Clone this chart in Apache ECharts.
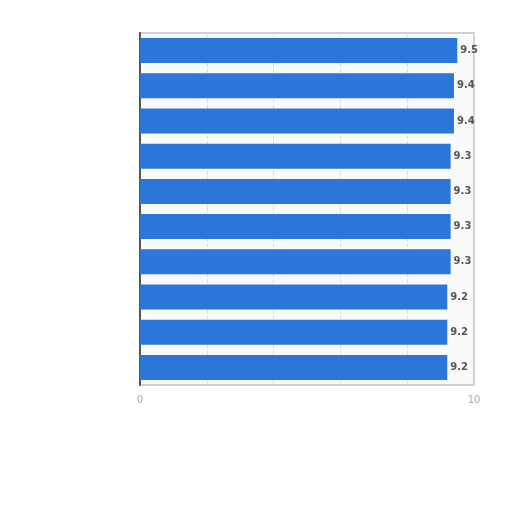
<!DOCTYPE html>
<html><head><meta charset="utf-8">
<script src="https://cdn.jsdelivr.net/npm/echarts@6/dist/echarts.min.js"></script>
<style>html,body{margin:0;padding:0;background:#fff}#c{width:512px;height:512px}</style>
</head><body><div id="c"></div>
<script>
var categories = ["Item 1","Item 2","Item 3","Item 4","Item 5","Item 6","Item 7","Item 8","Item 9","Item 10"];
var values = [9.5, 9.4, 9.4, 9.3, 9.3, 9.3, 9.3, 9.2, 9.2, 9.2];
var xTickLabels = {0: "0", 10: "10"};

var chart = echarts.init(document.getElementById('c'), null, {renderer: 'canvas'});
chart.setOption({
  animation: false,
  backgroundColor: '#ffffff',
  grid: {left: 140, right: 38, top: 33, bottom: 127, show: true, borderColor: '#d0d0d0', borderWidth: 2, backgroundColor: '#fafafa'},
  xAxis: {
    type: 'value', min: 0, max: 10, interval: 2,
    axisLine: {show: false}, axisTick: {show: false},
    splitLine: {show: true, lineStyle: {type: 'dashed', color: '#dcdcdc', width: 1}},
    axisLabel: {margin: 10, color: '#aaaaaa', fontSize: 10, fontFamily: 'DejaVu Sans',
      formatter: function (v) { return xTickLabels[v] !== undefined ? xTickLabels[v] : ''; }}
  },
  yAxis: {
    type: 'category', data: categories, inverse: true,
    axisLine: {show: true, lineStyle: {color: '#555555', width: 2}},
    axisTick: {show: false}, axisLabel: {show: false}, splitLine: {show: false}
  },
  series: [{
    type: 'bar', data: values, barCategoryGap: '29%',
    itemStyle: {color: '#2a76d9'},
    label: {show: true, position: 'right', distance: 3, color: '#555555', fontSize: 10, fontWeight: 'bold', fontFamily: 'DejaVu Sans',
      formatter: function (p) { return p.value.toFixed(1); }}
  }]
});
</script></body></html>
